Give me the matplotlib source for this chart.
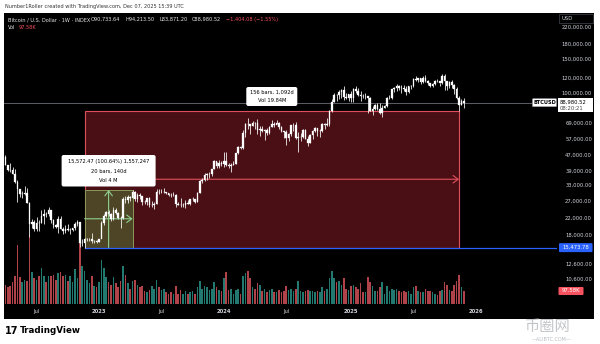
import matplotlib
matplotlib.use("Agg")
import matplotlib.pyplot as plt
from matplotlib.patches import Rectangle, FancyBboxPatch
import numpy as np
import pandas as pd

# ---------------- data (weekly BTC/USD index, weeks starting 2022-04-04) ----------------
first_week = "2022-04-04"
first_open = 46400
last_open = 90733.64

close = [
    # 2022
    42150, 39700, 39450, 37650, 34050, 31300, 29450, 29450, 29900, 26550,
    20550, 21000, 19300, 20850, 20800, 22600, 23300, 23200, 24300, 21500,
    20300, 19800, 21800, 19400, 18800, 19300, 19100, 19200, 19550, 20600,
    21150, 16300, 16300, 17100, 17100, 17100, 16800, 16850, 16600,
    # 2023
    17100, 20900, 22700, 23750, 23300, 21800, 24300, 23500, 22200, 22100,
    27950, 27450, 28450, 28300, 30300, 27800, 29250, 28900, 26900, 26750,
    28050, 25850, 25900, 26350, 30450, 30150, 30150, 30250, 29900, 29300,
    29050, 29300, 26100, 26000, 25850, 25850, 26550, 26250, 27950, 27950,
    26850, 29950, 34500, 35050, 37050, 37400, 37450, 39950, 43800, 41350,
    43000, 42300,
    # 2024
    43950, 41750, 41550, 42050, 42600, 48300, 52150, 51750, 62050, 68950,
    68400, 67250, 69650, 69350, 63900, 64950, 63100, 64000, 61500, 66250,
    69000, 67750, 69650, 66200, 63200, 62700, 57950, 60800, 68150, 68250,
    58150, 58700, 58950, 64200, 57300, 54800, 59950, 63550, 65650, 62850,
    62900, 69000, 68350, 68700, 80450, 89850, 97700, 97250, 101200, 104300,
    95200, 93750, 98300,
    # 2025
    94500, 104450, 102600, 97700, 96500, 96150, 96250, 94250, 80750, 82600,
    86050, 82350, 78350, 83750, 85200, 93700, 94300, 104600, 106350, 109100,
    105700, 105650, 105450, 100950, 108400, 109200, 119050, 117350, 119450, 114200,
    119300, 115100, 113500, 108250, 111150, 115300, 115250, 112150, 123500, 115150,
    108650, 114550, 110550, 104700, 94200, 86800, 90385, 88980.52,
]

high = [
    47200, 41500, 42900, 40800, 40000, 34800, 31000, 30500, 32400, 31700,
    26900, 21900, 21500, 22500, 21600, 24300, 24700, 23700, 25200, 24450,
    21900, 20500, 22800, 22700, 19900, 20400, 20500, 19700, 19700, 21000,
    21500, 21100, 17200, 17300, 17400, 17400, 18400, 17000, 16950,
    17200, 21400, 23300, 23950, 24250, 23450, 25250, 25000, 23900, 22600,
    28400, 28900, 29200, 28800, 31046, 30500, 30000, 29850, 29000, 27600,
    28200, 28450, 27150, 26800, 31400, 31250, 31500, 31800, 30400, 29950,
    29750, 30250, 29450, 26800, 28150, 26400, 27450, 27450, 27950, 28600,
    27950, 30350, 35200, 35950, 37950, 37950, 38400, 40200, 44700, 43450,
    44400, 43800,
    48950, 49000, 43200, 42850, 43850, 48550, 52800, 52950, 64000, 70000,
    73800, 68100, 71700, 70300, 72750, 66900, 67200, 64700, 65500, 67450,
    71950, 70600, 71950, 70200, 66950, 63350, 63800, 61400, 68350, 69350,
    70050, 62700, 61800, 65000, 64950, 59800, 60700, 64100, 66500, 65500,
    64500, 69500, 69500, 73600, 81500, 93450, 99600, 98800, 104000, 105250,
    108350, 99950, 98950,
    102700, 106400, 109350, 106400, 102500, 98800, 99500, 96500, 95000, 85300,
    87450, 88800, 88500, 86000, 86400, 95800, 97900, 104900, 107100, 111950,
    110700, 110350, 110400, 108900, 108500, 110550, 119500, 123200, 120200, 119950,
    122300, 124450, 117600, 113400, 113400, 116700, 117900, 113200, 125700, 126200,
    115950, 116000, 116400, 110900, 107500, 96650, 93000, 94213.50,
]

low = [
    41900, 39200, 38600, 37600, 33700, 26700, 28600, 28000, 29300, 26600,
    17600, 19600, 18800, 19000, 18900, 20800, 20700, 22400, 22700, 20800,
    19500, 19500, 18500, 19300, 18150, 18500, 19000, 18200, 18900, 19200,
    20100, 15600, 15800, 15473.78, 16750, 16750, 16300, 16450, 16350,
    16550, 17300, 20400, 22500, 22600, 21400, 21550, 23100, 21950, 19600,
    21900, 26650, 26500, 27250, 28200, 27150, 26950, 27700, 25850, 26300,
    25900, 25400, 25350, 24800, 26250, 29600, 29750, 30000, 29550, 28900,
    28600, 28700, 25200, 25800, 25350, 25400, 24900, 26100, 26000, 27150,
    26550, 26850, 29850, 33950, 34550, 34800, 35700, 36900, 39800, 40550,
    40600, 41450,
    40750, 41500, 40300, 38550, 41900, 42250, 47700, 50600, 50900, 59000,
    64600, 60800, 66900, 64500, 60700, 59600, 62500, 56500, 60200, 60800,
    66600, 66650, 68500, 65050, 62700, 58400, 53500, 55750, 59800, 63500,
    57150, 49050, 56200, 57850, 57200, 52600, 54600, 57600, 62750, 59850,
    58900, 62450, 65100, 67500, 66850, 79850, 89300, 90750, 92600, 94200,
    92150, 92600, 91300,
    89250, 89300, 100100, 96150, 91200, 94100, 93400, 78250, 80000, 76600,
    81200, 81600, 77150, 74500, 83100, 84900, 92950, 93400, 100750, 102100,
    103100, 100400, 102600, 98200, 100350, 105150, 107500, 115800, 114700, 112000,
    112700, 114600, 110700, 107300, 107250, 110600, 114400, 108650, 111600, 104000,
    103500, 106600, 106300, 98900, 93000, 80600, 86100, 83871.20,
]

volume_k = [
    150, 130, 140, 170, 220, 460, 210, 170, 190, 180,
    540, 250, 200, 190, 220, 280, 220, 170, 220, 220,
    230, 190, 240, 250, 220, 230, 180, 220, 170, 270,
    200, 580, 300, 260, 190, 160, 220, 140, 130,
    170, 340, 280, 210, 170, 150, 210, 160, 130, 180,
    300, 230, 160, 120, 180, 190, 150, 130, 140, 100,
    90, 110, 140, 120, 190, 130, 110, 120, 90, 80,
    90, 80, 140, 80, 110, 80, 100, 80, 90, 100,
    80, 130, 180, 120, 140, 130, 110, 120, 170, 130,
    110, 100,
    200, 250, 110, 120, 80, 110, 120, 80, 220, 240,
    260, 200, 130, 120, 160, 150, 100, 120, 90, 110,
    120, 90, 90, 110, 90, 100, 140, 110, 120, 100,
    120, 180, 100, 90, 100, 110, 100, 100, 90, 100,
    90, 130, 100, 120, 200, 260, 200, 170, 180, 150,
    200, 120, 110,
    140, 150, 130, 120, 160, 90, 90, 210, 170, 140,
    100, 100, 130, 170, 80, 140, 100, 120, 110, 120,
    100, 90, 100, 90, 100, 80, 130, 140, 100, 90,
    90, 120, 100, 100, 90, 80, 70, 100, 110, 170,
    150, 110, 100, 150, 180, 230, 130, 97.58,
]

price_ticks = [220000, 180000, 150000, 120000, 100000, 69000, 57000, 47000,
               39000, 33000, 27000, 22000, 18000, 12600, 10600]

range_start_bar, range_end_bar = 33, 189
range_low, range_high = 15473.78, 80600
green_end_bar, green_high = 53, 31046.25
last_price = 88980.52

header_title = "Bitcoin / U.S. Dollar · 1W · INDEX"
header_vals = ["O90,733.64", "H94,213.50", "L83,871.20", "C88,980.52", "−1,404.08 (−1.55%)"]
green_label = ["15,572.47 (100.64%) 1,557,247", "20 bars, 140d", "Vol 4 M"]
red_label = ["156 bars, 1,092d", "Vol 19.84M"]

# ---------------- derived ----------------
n = len(close)
opn = [first_open] + close[:-1]
opn[-1] = last_open
opn = np.array(opn, float); cl = np.array(close, float)
hi = np.array(high, float); lo = np.array(low, float)
vol = np.array(volume_k, float)
dates = pd.date_range(first_week, periods=n, freq="W-MON")
idx = np.arange(n)

W, H = 600, 344
fig = plt.figure(figsize=(6, 3.44), dpi=100)
fig.patch.set_facecolor("white")

def fr(l, t, r, b):
    return [l / W, 1 - b / H, (r - l) / W, (b - t) / H]

# black chart background
bg = fig.add_axes(fr(4, 13, 594, 319), zorder=0)
bg.set_facecolor("black"); bg.set_xticks([]); bg.set_yticks([])
for s in bg.spines.values():
    s.set_visible(False)

AX_L, AX_R, AX_T, AX_B = 4, 557, 13, 304
x0 = (AX_L - 5.4) / 2.4
x1 = (AX_R - 5.4) / 2.4
ytop = 10 ** (5 + (93 - AX_T) / 190.8)
ybot = 10 ** (5 - (AX_B - 93) / 190.8)

# volume axes
vax = fig.add_axes(fr(AX_L, AX_T, AX_R, AX_B), zorder=1)
vax.set_facecolor("none"); vax.axis("off")
vax.set_xlim(x0, x1); vax.set_ylim(0, 2270)
up = cl >= opn
vcol = np.where(up, "#22796f", "#b0434a")
vax.bar(idx, vol, width=0.72, color=vcol, linewidth=0)

# price axes
ax = fig.add_axes(fr(AX_L, AX_T, AX_R, AX_B), zorder=2)
ax.set_facecolor("none"); ax.axis("off")
ax.set_yscale("log")
ax.set_xlim(x0, x1); ax.set_ylim(ybot, ytop)

# date range rectangle (red)
ax.add_patch(Rectangle((range_start_bar, range_low), range_end_bar - range_start_bar,
                       range_high - range_low, facecolor="#4a0f15", edgecolor="#e0505c",
                       lw=0.8, zorder=2))
mid_red = np.sqrt(range_low * range_high)
ax.annotate("", xy=(range_end_bar, mid_red), xytext=(range_start_bar, mid_red),
            arrowprops=dict(arrowstyle="->,head_length=0.6,head_width=0.45", color="#e0505c",
                            lw=0.8, shrinkA=0, shrinkB=0, mutation_scale=6), zorder=3)
# green price/date range box
ax.add_patch(Rectangle((range_start_bar, range_low), green_end_bar - range_start_bar,
                       green_high - range_low, facecolor="#4d4526", edgecolor="#8a9a5b",
                       lw=0.7, zorder=3))
mid_g = np.sqrt(range_low * green_high)
gx_mid = (range_start_bar + green_end_bar) / 2
ax.annotate("", xy=(green_end_bar, mid_g), xytext=(range_start_bar, mid_g),
            arrowprops=dict(arrowstyle="->,head_length=0.6,head_width=0.45", color="#8fd18f",
                            lw=0.8, shrinkA=0, shrinkB=0, mutation_scale=6), zorder=4)
ax.annotate("", xy=(gx_mid, green_high), xytext=(gx_mid, range_low),
            arrowprops=dict(arrowstyle="->,head_length=0.6,head_width=0.45", color="#8fd18f",
                            lw=0.8, shrinkA=0, shrinkB=0, mutation_scale=6), zorder=4)

# price lines
ax.plot([x0, x1], [last_price, last_price], color="#6b6e78", lw=0.6, zorder=4)
ax.plot([range_start_bar, x1], [range_low, range_low], color="#2962ff", lw=0.9, zorder=4)

# candles
ax.vlines(idx, lo, hi, color="#f0f0f0", lw=0.6, zorder=5)
blo = np.minimum(opn, cl); bhi = np.maximum(opn, cl)
ax.bar(idx, bhi - blo, bottom=blo, width=0.66, color="white", edgecolor="white",
       linewidth=0.2, zorder=6)

# overlay in pixel coordinates
ov = fig.add_axes([0, 0, 1, 1], zorder=5)
ov.set_xlim(0, W); ov.set_ylim(H, 0); ov.axis("off"); ov.set_facecolor("none")

def py(p):
    return 93 + (5 - np.log10(p)) * 190.8

def pxi(i):
    return 5.4 + 2.4 * i

def rbox(l, t, r, b, fc, ec="none", rs=1.5, lw=0.5):
    ov.add_patch(FancyBboxPatch((l, t), r - l, b - t,
                                boxstyle=f"round,pad=0,rounding_size={rs}",
                                fc=fc, ec=ec, lw=lw))

FS = 3.8
# caption
ov.text(5, 6.5, "Number1Roller created with TradingView.com, Dec 07, 2025 15:39 UTC",
        fontsize=3.6, color="#333333", va="center", ha="left")
# header
ov.text(7.5, 19.5, header_title, fontsize=3.6, color="#e8e8e8", va="center", ha="left")
hx = [91, 126, 159, 192, 226]
for x, t in zip(hx, header_vals):
    col = "#e8e8e8" if not t.startswith("−") else "#f7525f"
    ov.text(x, 19.5, t, fontsize=3.6, color=col, va="center", ha="left")
ov.text(7.5, 27.5, "Vol", fontsize=3.6, color="#e8e8e8", va="center", ha="left")
ov.text(19, 27.5, "97.58K", fontsize=3.6, color="#f7525f", va="center", ha="left")

# price axis labels
for p in price_ticks:
    ov.text(592, py(p), f"{p:,.2f}", fontsize=FS, color="#d1d4dc", va="center", ha="right")

# USD box
ov.add_patch(Rectangle((559, 14), 34, 9, fc="black", ec="#434651", lw=0.5))
ov.text(561.5, 18.6, "USD", fontsize=FS, color="#d1d4dc", va="center", ha="left")

# last price labels
ly = py(last_price)
rbox(532.5, ly - 4, 556.5, ly + 4, "white", "#9598a1", rs=0.8, lw=0.4)
ov.text(544.5, ly, "BTCUSD", fontsize=3.6, color="black", va="center", ha="center",
        fontweight="bold")
ov.add_patch(Rectangle((558, ly - 5), 34.5, 14, fc="white", ec="none"))
ov.text(560, ly - 0.5, f"{last_price:,.2f}", fontsize=FS, color="black", va="center", ha="left")
ov.text(560, ly + 5.5, "08:20:21", fontsize=FS, color="#444444", va="center", ha="left")

# blue label
by = py(range_low)
rbox(559, by - 4.5, 592.5, by + 4.5, "#2962ff", rs=1)
ov.text(575.7, by, f"{range_low:,.2f}", fontsize=FS, color="white", va="center", ha="center")

# volume label
vy = 291
rbox(558.5, vy - 4, 583.5, vy + 4, "#f7525f", rs=1)
ov.text(571, vy, "97.58K", fontsize=FS, color="white", va="center", ha="center")

# time axis labels
for i, d in enumerate(dates):
    prev = dates[i - 1] if i > 0 else None
    if prev is None:
        continue
    if d.year != prev.year:
        ov.text(pxi(i), 311.5, str(d.year), fontsize=FS, color="#d1d4dc", va="center",
                ha="center", fontweight="bold")
    elif d.month == 7 and prev.month == 6:
        ov.text(pxi(i), 311.5, "Jul", fontsize=FS, color="#d1d4dc", va="center", ha="center")
# 2026 label (next year start)
ov.text(pxi(n + 4), 311.5, "2026", fontsize=FS, color="#d1d4dc", va="center", ha="center",
        fontweight="bold")

# range labels
gcx = pxi(gx_mid)
rbox(gcx - 47, 155, gcx + 47, 186.5, "white", rs=2)
for k, t in enumerate(green_label):
    ov.text(gcx, 161.5 + k * 9.5, t, fontsize=3.7, color="black", va="center", ha="center")
rcx = pxi((range_start_bar + range_end_bar) / 2)
rbox(rcx - 25.5, 87, rcx + 25.5, 106, "white", rs=2)
for k, t in enumerate(red_label):
    ov.text(rcx, 92 + k * 9, t, fontsize=3.7, color="black", va="center", ha="center")

# footer logo
ov.text(5, 330.5, "17", fontsize=7, color="black", va="center", ha="left", fontweight="heavy")
ov.text(20, 330.5, "TradingView", fontsize=6.3, color="black", va="center", ha="left",
        fontweight="semibold")
# watermark
ov.text(548, 327, "币圈网", fontsize=11, color="#b9bcc0", alpha=0.85, va="center", ha="center",
        family=["Noto Sans CJK SC", "DejaVu Sans"])
ov.text(552, 339.5, "—ALIBTC.COM—", fontsize=3.5, color="#b9bcc0", va="center", ha="center")

fig.savefig("out.png", dpi=100, facecolor="white")
